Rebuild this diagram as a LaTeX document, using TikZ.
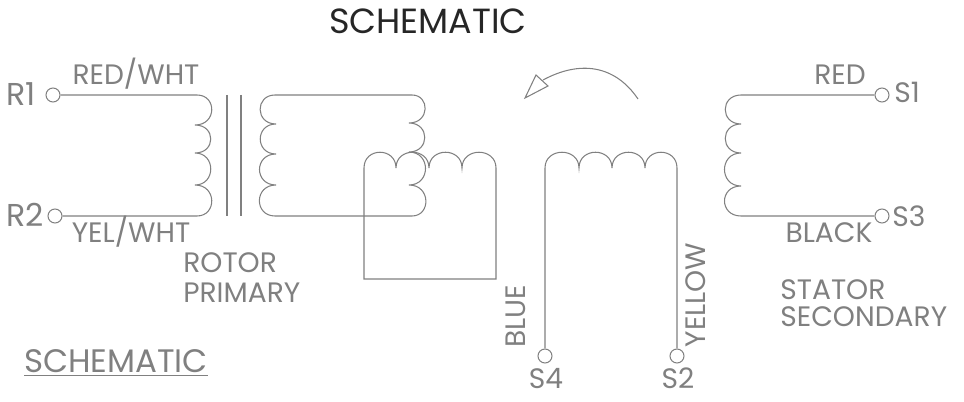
\documentclass[tikz,border=0pt]{standalone}
\usepackage{fontspec}
\setmainfont{Poppins}
\definecolor{trait}{HTML}{808080}
\begin{document}
\begin{tikzpicture}[x=0.02cm, y=-0.02cm]
\tikzset{borne/.style={draw=trait, circle, inner sep=0pt, minimum size=0.28cm, line width=0.6pt}}
\tikzset{fil/.style={draw=trait, line width=0.6pt}}
\tikzset{etiq/.style={text=trait, inner sep=0pt, text height=11.2pt, text depth=0pt, font=\fontsize{16}{18}\selectfont}}
\tikzset{etiqb/.style={text=trait, inner sep=0pt, text height=12.6pt, text depth=0pt, font=\fontsize{18}{20}\selectfont}}
\useasboundingbox (0, 0) rectangle (964, 402);
\node[text=black!85, inner sep=0pt, text height=14pt, text depth=0pt, font=\fontsize{19.9}{24}\selectfont] (T1) at (428, 21) {SCHEMATIC};
\node[etiqb, font=\fontsize{18.5}{20}\selectfont] (T2) at (116, 361.5) {\underline{SCHEMATIC}};
\node[borne] (R1) at (53, 95) {};
\node[borne] (R2) at (55, 216) {};
\node[borne] (S1) at (882, 95) {};
\node[borne] (S3) at (882, 216) {};
\node[borne] (S4) at (545, 356) {};
\node[borne] (S2) at (677, 356) {};
\node[etiqb] (LR1) at (21, 94) {R1};
\node[etiqb] (LR2) at (25, 215) {R2};
\node[etiq] (LS1) at (907, 93) {S1};
\node[etiq] (LS3) at (909, 217) {S3};
\node[etiq] (LS4) at (546, 379) {S4};
\node[etiq] (LS2) at (678, 379) {S2};
\node[etiq] (A1) at (136, 75) {RED/WHT};
\node[etiq] (A2) at (131, 233) {YEL/WHT};
\node[etiq] (A3) at (840, 75) {RED};
\node[etiq] (A4) at (829, 233) {BLACK};
\node[etiq, rotate=90] (A5) at (516, 316) {BLUE};
\node[etiq, rotate=90] (A6) at (696, 295) {YELLOW};
\node[etiq, anchor=west] (B1) at (183, 263) {ROTOR};
\node[etiq, anchor=west] (B2) at (183, 293) {PRIMARY};
\node[etiq, anchor=west] (B3) at (780, 290) {STATOR};
\node[etiq, anchor=west] (B4) at (780, 317) {SECONDARY};
\draw[fil] (R1) -- (197, 95) .. controls (217, 95) and (217, 125) .. (195, 125)
  .. controls (216, 125) and (216, 153) .. (195, 153)
  .. controls (216, 153) and (216, 185) .. (195, 185)
  .. controls (217, 185) and (217, 216) .. (197, 216) -- (R2);
\draw[fil] (227, 95) -- (227, 216);
\draw[fil] (241, 95) -- (241, 216);
\draw[fil] (275, 95) -- (412, 95) .. controls (430, 95) and (430, 123) .. (409, 123)
  .. controls (430, 123) and (430, 152) .. (409, 152)
  .. controls (431, 152) and (431, 185) .. (409, 185)
  .. controls (431, 185) and (431, 216) .. (412, 216) -- (275, 216)
  .. controls (254, 216) and (254, 185) .. (276, 185)
  .. controls (254, 185) and (254, 154) .. (276, 154)
  .. controls (255, 154) and (255, 124) .. (276, 124)
  .. controls (255, 124) and (255, 95) .. (275, 95) -- cycle;
\draw[fil] (364, 279) -- (364, 168) .. controls (364, 147) and (396, 147) .. (396, 168)
  .. controls (396, 147) and (429, 147) .. (429, 168)
  .. controls (429, 147) and (462, 147) .. (462, 168)
  .. controls (462, 147) and (496, 147) .. (496, 168) -- (496, 279) -- cycle;
\draw[fil] (S4) -- (545, 168) .. controls (545, 147) and (579, 147) .. (579, 168)
  .. controls (579, 147) and (612, 147) .. (612, 168)
  .. controls (612, 147) and (645, 147) .. (645, 168)
  .. controls (645, 147) and (677, 147) .. (677, 168) -- (S2);
\draw[fil] (S1) -- (741, 95) .. controls (720, 95) and (720, 124) .. (741, 124)
  .. controls (720, 124) and (720, 153) .. (741, 153)
  .. controls (719, 153) and (719, 186) .. (741, 186)
  .. controls (719, 186) and (719, 216) .. (741, 216) -- (S3);
\draw[fil] (638, 99) .. controls (615, 65) and (580, 60) .. (543, 80);
\draw[fil] (525, 98) -- (536, 75) -- (548, 86) -- cycle;
\end{tikzpicture}
\end{document}
